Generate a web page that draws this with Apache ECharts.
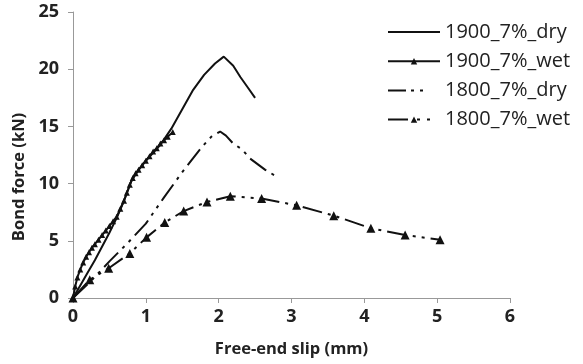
<!DOCTYPE html>
<html><head><meta charset="utf-8">
<script src="https://cdn.jsdelivr.net/npm/echarts@6/dist/echarts.min.js"></script>
<style>html,body{margin:0;padding:0;background:#fff}#c{width:583px;height:364px}</style>
</head><body><div id="c"></div>
<script>
const seriesNames = ['1900_7%_dry', '1900_7%_wet', '1800_7%_dry', '1800_7%_wet'];
const dry1900X = [0,0.1,0.2,0.3,0.4,0.5,0.6,0.7,0.8,0.9,1.0,1.1,1.2,1.35,1.5,1.65,1.8,1.95,2.07,2.2,2.3,2.4,2.5];
const dry1900Y = [0,1.1,2.2,3.3,4.5,5.7,7.0,8.5,10.2,11.2,12.0,12.7,13.4,14.8,16.5,18.2,19.5,20.5,21.1,20.3,19.3,18.4,17.5];
const wet1900X = [0,0.03,0.06,0.1,0.14,0.18,0.22,0.26,0.3,0.35,0.4,0.45,0.5,0.55,0.6,0.65,0.7,0.74,0.78,0.82,0.86,0.9,0.95,1.0,1.05,1.1,1.15,1.2,1.25,1.3,1.37];
const wet1900Y = [0,1.0,1.8,2.5,3.1,3.6,4.0,4.4,4.7,5.1,5.5,5.9,6.3,6.7,7.1,7.8,8.5,9.2,9.9,10.5,10.9,11.2,11.6,12.0,12.4,12.8,13.1,13.5,13.8,14.1,14.5];
const dry1800X = [0,0.25,0.5,0.75,1.0,1.25,1.5,1.77,1.9,2.02,2.1,2.2,2.32,2.43,2.64,2.8];
const dry1800Y = [0,1.5,3.2,4.8,6.5,8.8,11.0,13.2,14.1,14.55,14.2,13.5,13.0,12.2,11.2,10.6];
const wet1800X = [0,0.23,0.49,0.78,1.01,1.26,1.52,1.84,2.16,2.59,3.07,3.58,4.09,4.56,5.04];
const wet1800Y = [0,1.6,2.6,3.9,5.3,6.6,7.6,8.4,8.9,8.7,8.1,7.2,6.1,5.5,5.1];
const xTicks = [0,1,2,3,4,5,6];
const yTicks = [0,5,10,15,20,25];

const pair = (xs, ys) => xs.map((x, i) => [x, ys[i]]);
const dashDotDot = [20,6,3,6,3,6];
const chart = echarts.init(document.getElementById('c'));
chart.setOption({
  animation: false,
  grid: {left: 73, right: 73, top: 12, bottom: 66},
  legend: {
    orient: 'vertical', left: 387, top: 22, padding: 0, itemWidth: 52, itemHeight: 8, itemGap: 9.2,
    textStyle: {fontFamily: 'Open Sans', fontSize: 20, color: '#222', lineHeight: 19},
    data: [
      {name: seriesNames[0], itemStyle: {opacity: 0}},
      {name: seriesNames[1]},
      {name: seriesNames[2], itemStyle: {opacity: 0}, lineStyle: {type: [18,5,3,6,3,17]}},
      {name: seriesNames[3], lineStyle: {type: [20,9,3,7,3,10]}}
    ]
  },
  xAxis: {
    type: 'value', min: xTicks[0], max: xTicks[xTicks.length-1], interval: 1,
    name: 'Free-end slip (mm)', nameLocation: 'middle', nameGap: 43,
    nameTextStyle: {fontFamily: 'Open Sans', fontWeight: 'bold', fontSize: 16.5, color: '#222'},
    axisLine: {lineStyle: {color: '#999', width: 1}},
    axisTick: {show: true, length: 5, lineStyle: {color: '#999'}},
    axisLabel: {fontFamily: 'Open Sans', fontWeight: 'bold', fontSize: 18, color: '#222', margin: 10},
    splitLine: {show: false}
  },
  yAxis: {
    type: 'value', min: yTicks[0], max: yTicks[yTicks.length-1], interval: 5,
    name: 'Bond force (kN)', nameLocation: 'middle', nameGap: 45,
    nameTextStyle: {fontFamily: 'Open Sans', fontWeight: 'bold', fontSize: 16.5, color: '#222', padding: [0, 44, 0, 0]},
    axisLine: {show: true, lineStyle: {color: '#999', width: 1}},
    axisTick: {show: true, length: 5, lineStyle: {color: '#999'}},
    axisLabel: {fontFamily: 'Open Sans', fontWeight: 'bold', fontSize: 18, color: '#222', margin: 14},
    splitLine: {show: false}
  },
  series: [
    {name: seriesNames[0], type: 'line', data: pair(dry1900X, dry1900Y), showSymbol: false, symbol: 'none',
     lineStyle: {color: '#111', width: 2}, itemStyle: {color: '#111'}},
    {name: seriesNames[1], type: 'line', data: pair(wet1900X, wet1900Y), symbol: 'triangle', symbolSize: 6,
     lineStyle: {color: '#111', width: 2}, itemStyle: {color: '#111'}},
    {name: seriesNames[2], type: 'line', data: pair(dry1800X, dry1800Y), showSymbol: false, symbol: 'none',
     lineStyle: {color: '#111', width: 2, type: dashDotDot}, itemStyle: {color: '#111'}},
    {name: seriesNames[3], type: 'line', data: pair(wet1800X, wet1800Y), symbol: 'triangle', symbolSize: 9,
     lineStyle: {color: '#111', width: 2, type: dashDotDot}, itemStyle: {color: '#111'}}
  ]
});
</script></body></html>
